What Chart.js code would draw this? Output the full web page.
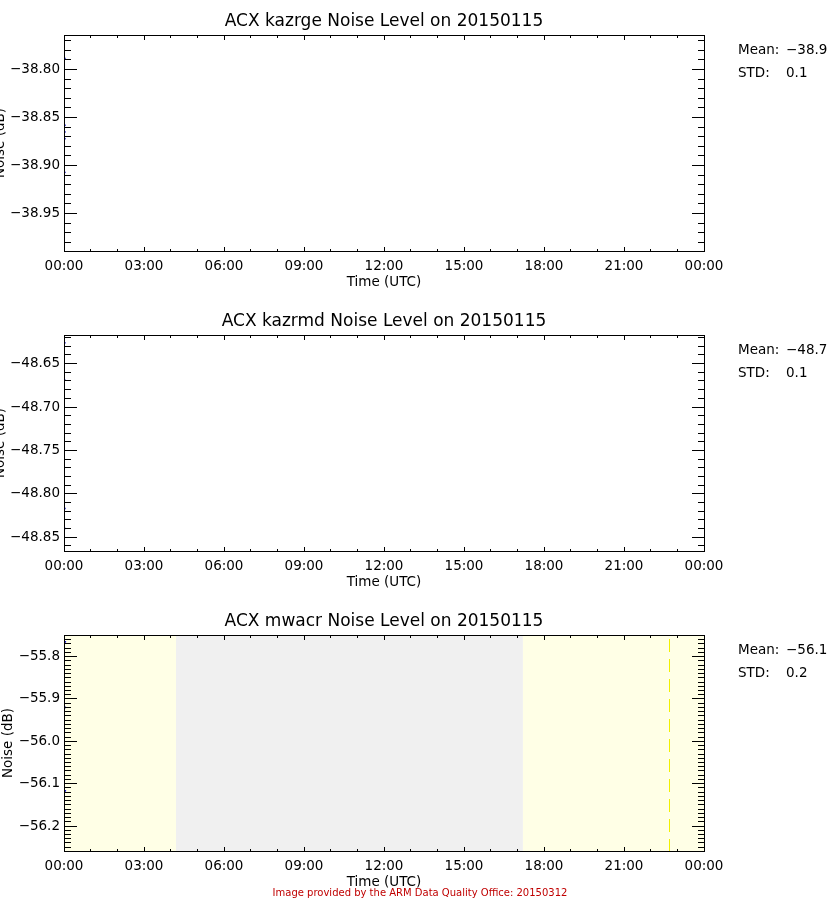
<!DOCTYPE html>
<html><head><meta charset="utf-8">
<script src="https://cdn.jsdelivr.net/npm/chart.js@4/dist/chart.umd.min.js"></script>
<style>
html,body{margin:0;padding:0;background:#fff;}
#wrap{position:relative;width:840px;height:900px;overflow:hidden;}
canvas{position:absolute;left:0;}
</style>
</head><body>
<div id="wrap">
<canvas id="c1" width="840" height="300" style="top:0px"></canvas>
<canvas id="c2" width="840" height="300" style="top:300px"></canvas>
<canvas id="c3" width="840" height="300" style="top:600px"></canvas>
</div>
<script>
// ---- data ----
const hourTicks = [0,1,2,3,4,5,6,7,8,9,10,11,12,13,14,15,16,17,18,19,20,21,22,23,24];
const xLabels = ['00:00','03:00','06:00','09:00','12:00','15:00','18:00','21:00','00:00'];
const titles = ['ACX kazrge Noise Level on 20150115','ACX kazrmd Noise Level on 20150115','ACX mwacr Noise Level on 20150115'];
const meanText = ['\u221238.9','\u221248.7','\u221256.1'];
const stdText = ['0.1','0.1','0.2'];
const yMin = [-38.989,-48.866,-56.259];
const yMax = [-38.764,-48.617,-55.749];
const yMajor1 = [-38.95,-38.90,-38.85,-38.80];
const yLabels1 = ['\u221238.95','\u221238.90','\u221238.85','\u221238.80'];
const yMajor2 = [-48.85,-48.80,-48.75,-48.70,-48.65];
const yLabels2 = ['\u221248.85','\u221248.80','\u221248.75','\u221248.70','\u221248.65'];
const yMajor3 = [-56.2,-56.1,-56.0,-55.9,-55.8];
const yLabels3 = ['\u221256.2','\u221256.1','\u221256.0','\u221255.9','\u221255.8'];
const yMinorStep = 0.01;
const kazrgeTime = [0.03,0.03,0.03,0.03,0.03];
const kazrgeNoise = [-38.7885,-38.858,-38.865,-38.872,-38.907];
const kazrmdTime = [0.03,0.03,0.03,0.03];
const kazrmdNoise = [-48.626,-48.669,-48.817,-48.840];
const mwacrTime = [0.05,0.05,0.05];
const mwacrNoise = [-55.765,-55.92,-56.117];
const flagStart = [0,4.2,17.21];
const flagEnd = [4.2,17.21,24];
const flagColor = ['rgb(255,255,230)','rgb(240,240,240)','rgb(255,255,230)'];
const dashedTime = [22.7];
const footerText = 'Image provided by the ARM Data Quality Office: 20150312';

const FONT = 'DejaVu Sans';
Chart.defaults.font.family = FONT;
Chart.defaults.font.size = 13.5;
Chart.defaults.color = '#000';

function pts(t, v){ return t.map((x,i)=>({x:x, y:v[i]})); }

function makeChart(id, idx, times, noise, majors, labels, opts){
  const yTitleX = opts.yTitleX;
  const deco = {
    id:'deco'+idx,
    beforeDatasetsDraw(chart){
      const {ctx, chartArea:a, scales:{x}} = chart;
      if (opts.flags){
        ctx.save();
        for (let i=0;i<flagStart.length;i++){
          const x0 = x.getPixelForValue(flagStart[i]);
          const x1 = x.getPixelForValue(flagEnd[i]);
          ctx.fillStyle = flagColor[i];
          ctx.fillRect(x0, a.top, x1-x0, a.bottom-a.top);
        }
        ctx.strokeStyle = '#f0f000';
        ctx.lineWidth = 1;
        ctx.setLineDash([13,7]);
        ctx.lineDashOffset = 16;
        for (const t of dashedTime){
          const px = Math.floor(x.getPixelForValue(t))+0.5;
          ctx.beginPath(); ctx.moveTo(px, a.top); ctx.lineTo(px, a.bottom); ctx.stroke();
        }
        ctx.restore();
      }
    },
    afterDraw(chart){
      const {ctx, chartArea:a, scales:{x,y}} = chart;
      ctx.save();
      ctx.fillStyle = '#000';
      for (const t of x.ticks){
        const px = Math.floor(x.getPixelForValue(t.value));
        const len = (t.value % 3 === 0) ? 5 : 3;
        ctx.fillRect(px, Math.round(a.bottom)-len+1, 1, len);
        ctx.fillRect(px, Math.round(a.top), 1, len);
      }
      for (const t of y.ticks){
        const py = Math.floor(y.getPixelForValue(t.value));
        const major = majors.some(m=>Math.abs(m-t.value)<1e-6);
        const len = major ? 13 : 7;
        ctx.fillRect(Math.round(a.left), py, len, 1);
        ctx.fillRect(Math.round(a.right)-len+1, py, len, 1);
      }
      ctx.strokeStyle = '#000'; ctx.lineWidth = 1;
      ctx.strokeRect(Math.round(a.left)+0.5, Math.round(a.top)+0.5, Math.round(a.right-a.left), Math.round(a.bottom-a.top));
      ctx.save();
      ctx.font = '13.5px "'+FONT+'"';
      ctx.textAlign = 'center'; ctx.textBaseline = 'alphabetic';
      ctx.translate(yTitleX, (a.top+a.bottom)/2);
      ctx.rotate(-Math.PI/2);
      ctx.fillText('Noise (dB)', 0, 0);
      ctx.restore();
      ctx.font = '13.5px "'+FONT+'"';
      ctx.textAlign = 'left'; ctx.textBaseline = 'middle';
      ctx.fillText('Mean:', 738, 50);
      ctx.fillText(meanText[idx], 786, 50);
      ctx.fillText('STD:', 738, 73);
      ctx.fillText(stdText[idx], 786, 73);
      if (opts.footer){
        ctx.font = '10px "'+FONT+'"';
        ctx.fillStyle = '#c00000';
        ctx.textAlign = 'center';
        ctx.fillText(footerText, 420, 293);
      }
      ctx.restore();
    }
  };
  return new Chart(document.getElementById(id), {
    type:'scatter',
    data:{datasets:[{data:pts(times, noise), pointRadius:0.9, pointBorderWidth:0, backgroundColor:'#0000cc', borderColor:'#0000cc', showLine:false}]},
    options:{
      responsive:false, animation:false, devicePixelRatio:1,
      layout:{padding:{left:0,right:136,top:0,bottom:0}},
      plugins:{
        legend:{display:false}, tooltip:{enabled:false},
        title:{display:true, text:titles[idx], fullSize:false, color:'#000',
          font:{family:FONT, size:17, weight:'normal'}, padding:{top:11.8,bottom:2.8}}
      },
      scales:{
        x:{type:'linear', min:0, max:24,
          afterBuildTicks(s){ s.ticks = hourTicks.map(v=>({value:v})); },
          afterFit(s){ s.height = 49; },
          ticks:{autoSkip:false, maxRotation:0, padding:7,
            callback:(v)=> (v%3===0 ? xLabels[v/3] : '')},
          grid:{display:false, drawTicks:false}, border:{display:false},
          title:{display:true, text:'Time (UTC)', padding:{top:0,bottom:9}, font:{size:13.5}}
        },
        y:{type:'linear', min:yMin[idx], max:yMax[idx],
          afterBuildTicks(s){
            const arr=[];
            const k0=Math.ceil(yMin[idx]/yMinorStep-1e-9), k1=Math.floor(yMax[idx]/yMinorStep+1e-9);
            for(let k=k0;k<=k1;k++) arr.push({value:+(k*yMinorStep).toFixed(4)});
            s.ticks = arr;
          },
          afterFit(s){ s.width = 64; },
          ticks:{autoSkip:false, padding:4,
            callback:(v)=>{ const i = majors.findIndex(m=>Math.abs(m-v)<1e-6); return i>=0 ? labels[i] : ''; }},
          grid:{display:false, drawTicks:false}, border:{display:false}
        }
      }
    },
    plugins:[deco]
  });
}

makeChart('c1', 0, kazrgeTime, kazrgeNoise, yMajor1, yLabels1, {yTitleX:4});
makeChart('c2', 1, kazrmdTime, kazrmdNoise, yMajor2, yLabels2, {yTitleX:4});
makeChart('c3', 2, mwacrTime, mwacrNoise, yMajor3, yLabels3, {yTitleX:11.5, flags:true, footer:true});
</script>
</body></html>
